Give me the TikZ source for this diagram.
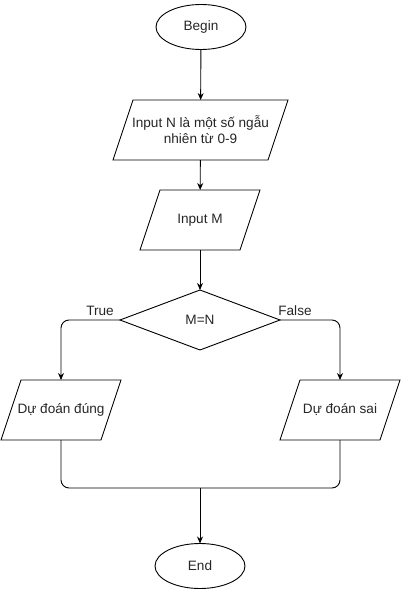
\documentclass[tikz,border=0pt]{standalone}
\usepackage{fontspec}
\setmainfont{Liberation Sans}
\usetikzlibrary{shapes.geometric,arrows.meta}
\begin{document}
\begin{tikzpicture}[x=1pt,y=-1pt,
  every node/.style={font=\fontsize{13.6}{16}\selectfont, text=black!85},
  base/.style={draw=black, line width=0.9pt, inner sep=0pt, outer sep=0pt},
  term/.style={base, ellipse, minimum width=90pt, minimum height=45pt},
  iobox/.style={inner sep=0pt, outer sep=0pt, rectangle, minimum height=60pt, align=center},
  border/.style={draw=black, line width=0.9pt, line join=miter},
  decision/.style={base, diamond, minimum width=160pt, minimum height=60pt},
  conn/.style={line width=0.9pt, draw=black},
  arr/.style={conn, -{Stealth[length=7pt,width=6pt]}},
  lbl/.style={inner sep=1pt}
]
\useasboundingbox (0,0) rectangle (401,591);
\node[term] (begin) at (201,27) {Begin};
\node[iobox, minimum width=175pt] (p1) at (200.5,130) {Input N là một số ngẫu\\nhiên từ 0-9};
\node[iobox, minimum width=120pt] (p2) at (200,220) {Input M};
\node[decision] (dec) at (200,320) {M=N};
\node[iobox, minimum width=120pt] (dd1) at (61,410) {Dự đoán đúng};
\node[iobox, minimum width=120pt] (dd2) at (340,410) {Dự đoán sai};
\node[term] (end) at (200,566) {End};
\coordinate (m) at (200,488);

\foreach \n in {p1,p2,dd1,dd2}{
  \draw[border] ([xshift=20pt]\n.north west) -- (\n.north east)
     -- ([xshift=-20pt]\n.south east) -- (\n.south west) -- cycle;
}

\draw[arr] (begin) -- (p1);
\draw[arr] (p1) -- (p2);
\draw[arr] (p2) -- (dec);
\draw[arr, rounded corners=8pt] (dec.west) -| (dd1.north);
\draw[arr, rounded corners=8pt] (dec.east) -| (dd2.north);
\draw[conn, rounded corners=8pt] (dd1.south) |- (m) -| (dd2.south);
\draw[arr] (m) -- (end);

\node[lbl] (t) at (100,311) {True};
\node[lbl] (f) at (295,311) {False};
\end{tikzpicture}
\end{document}
